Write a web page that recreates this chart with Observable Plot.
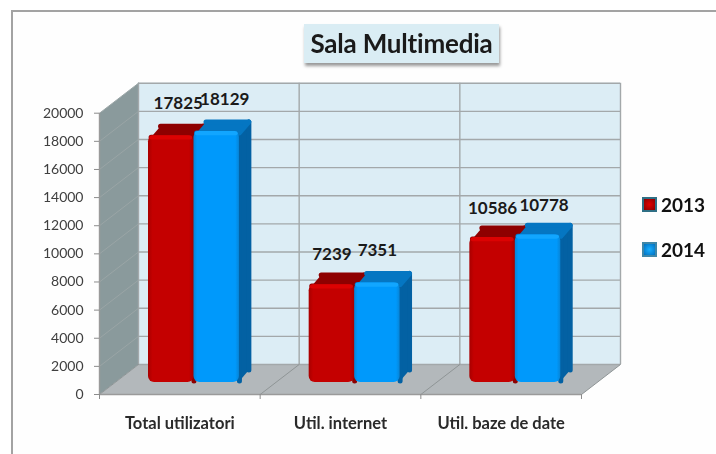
<!DOCTYPE html>
<html><head><meta charset="utf-8">
<script src="https://cdn.jsdelivr.net/npm/d3@7"></script>
<script src="https://cdn.jsdelivr.net/npm/@observablehq/plot@0.6"></script>
<style>
html,body{margin:0;padding:0;background:#fff;width:716px;height:454px;overflow:hidden;font-family:Lato,sans-serif}
#frame{position:absolute;left:11px;top:10px;width:705px;height:444px;border-top:2px solid #a3a3a3;border-left:2px solid #a3a3a3;box-sizing:border-box;background:#fefefe}
#chart{position:absolute;left:0;top:0;filter:blur(0.4px)}
#title{position:absolute;left:304px;top:24px;width:195px;height:39px;background:#daedf4;box-shadow:1px 3px 3px #999;text-align:center;font:bold 26px/38px Lato,sans-serif;color:#1a1a1a;letter-spacing:-0.2px}
.leg{position:absolute;left:661px;font:bold 19px/20px Lato,sans-serif;color:#111}
.sw{position:absolute;left:642px;width:11px;height:11px;border:2px solid}
</style></head><body>
<div id="frame"></div>
<div id="chart"></div>
<div id="title">Sala Multimedia</div>
<div class="sw" style="top:197px;background:radial-gradient(#e00000,#8a0000);border-color:#2f6f85"></div><div class="leg" style="top:195px">2013</div>
<div class="sw" style="top:242px;background:radial-gradient(#19b0ff,#0070c0);border-color:#3f87a8"></div><div class="leg" style="top:240px">2014</div>
<script>
const categories = ["Total utilizatori", "Util. internet", "Util. baze de date"];
const years = ["2013", "2014"];
const values2013 = [17825, 7239, 10586];
const values2014 = [18129, 7351, 10778];
const yTicks = [0, 2000, 4000, 6000, 8000, 10000, 12000, 14000, 16000, 18000, 20000];

// drawing constants (3-D look), kept apart from the data
const wall = {dx: 39, dy: -30, ux: 39 / 160.67, uy: 30 / 0.014065};
const bar = {ux: 12 / 160.67, uy: 11 / 0.014065, lift: 4 / 0.014065, dy: -8, w: 0.283, start: 0.305};
const labelNudge = {"2013": [[7, -32], [0, -30], [0, -29]], "2014": [[8, -32], [0, -33], [6, -29]]};
const look = {
  "2013": {face: "url(#faceRed)", bevel: "#dc0202", top: "#8e0000", side: "#8e0000"},
  "2014": {face: "url(#faceBlue)", bevel: "#12a6ff", top: "#0576c2", side: "#0361a3"}
};
const seriesValues = {"2013": values2013, "2014": values2014};

const poly = (pts, fill, stroke = fill, strokeWidth = 1, extra = {}) =>
  Plot.line(pts, {x: d => d[0], y: d => d[1], fill, stroke, strokeWidth, strokeLinejoin: "round", ...extra});

const defs = () => {
  const s = d3.create("svg:defs");
  const grad = (id, stops) => {
    const g = s.append("linearGradient").attr("id", id);
    stops.forEach(([o, c]) => g.append("stop").attr("offset", o).attr("stop-color", c));
  };
  grad("faceRed", [[0, "#a80000"], [0.1, "#c40000"], [0.9, "#c40000"], [1, "#a80000"]]);
  grad("faceBlue", [[0, "#0685d8"], [0.08, "#0099fb"], [0.92, "#0099fb"], [1, "#0685d8"]]);
  return s.node();
};

const gridColor = "#a3a8aa";
const xEdges = [0, 1, 2, 3];
const marks = [
  defs,
  // back wall, left wall, floor
  Plot.rect([0], {x1: 0, x2: 3, y1: 0, y2: 20000, fill: "#dcedf5", dx: wall.dx, dy: wall.dy}),
  poly([[0, 0], [0, 20000], [wall.ux, 20000 + wall.uy], [wall.ux, wall.uy]], "#8a9a9c", "none"),
  poly([[0, 0], [3, 0], [3 + wall.ux, wall.uy], [wall.ux, wall.uy]], "#b3b8bb", "none"),
  // grid
  Plot.ruleY(yTicks, {x1: 0, x2: 3, stroke: gridColor, strokeWidth: 1.4, dx: wall.dx, dy: wall.dy}),
  Plot.ruleX(xEdges, {y1: 0, y2: 20000, stroke: gridColor, strokeWidth: 1.4, dx: wall.dx, dy: wall.dy}),
  ...yTicks.map(t => Plot.line([[0, t], [wall.ux, t + wall.uy]], {stroke: t ? "#9aa5a6" : "#8f9596", strokeWidth: 1})),
  ...xEdges.slice(1).map(e => Plot.line([[e, 0], [e + wall.ux, wall.uy]], {stroke: "#8f9596", strokeWidth: 1})),
  Plot.ruleX([0], {y1: 0, y2: 20000, stroke: "#9a9a9a", strokeWidth: 1.4}),
  Plot.ruleY([0], {stroke: "#9a9a9a", strokeWidth: 1.6})
];

// bars, drawn series by series so the blue sits in front of the red
years.forEach((yr, s) => {
  const c = look[yr];
  seriesValues[yr].forEach((v, i) => {
    const x1 = i + bar.start + s * bar.w, x2 = x1 + bar.w;
    const base = bar.lift;
    const inset = 0.016, ins = 100;
    marks.push(
      poly([[x2, base + ins], [x2, v], [x2 + bar.ux - inset, v + bar.uy - ins], [x2 + bar.ux - inset, base + bar.uy + ins]], c.side, c.side, 5, {dy: bar.dy}),
      poly([[x1 + inset, v - 100], [x2, v - 100], [x2 + bar.ux - inset, v + bar.uy - ins], [x1 + bar.ux, v + bar.uy - ins]], c.top, c.top, 5, {dy: bar.dy}),
      Plot.rect([0], {x1, x2, y1: base, y2: v, fill: c.face, rx: 6, dy: bar.dy}),
      Plot.rect([0], {x1: x1 + inset / 2, x2: x2 - inset / 2, y1: v - 300, y2: v, fill: c.bevel, rx: 3, dy: bar.dy})
    );
  });
});

// value labels
years.forEach(yr => {
  seriesValues[yr].forEach((v, i) => {
    const s = years.indexOf(yr);
    const [dx, dy] = labelNudge[yr][i];
    marks.push(Plot.text([v], {
      x: i + bar.start + s * bar.w + bar.w / 2, y: d => d, text: d => String(d),
      dx, dy: dy + bar.dy, fontSize: 17, fontWeight: 700, fill: "#1a1a1a",
      fontFamily: "Lato, sans-serif"
    }));
  });
});

// axes
marks.push(
  Plot.axisY({ticks: yTicks, tickSize: 5, tickPadding: 11, label: null, tickFormat: d => String(d), stroke: "#8c8c8c", fill: "#404040", fontSize: 14, fontFamily: "Lato, sans-serif"}),
  Plot.axisX({ticks: xEdges, tickSize: 5, tickFormat: () => "", label: null, stroke: "#8c8c8c"}),
  Plot.axisX({ticks: [0.5, 1.5, 2.5], tickSize: 0, tickPadding: 23, label: null, tickFormat: d => categories[Math.floor(d)], fill: "#2a2a2a", fontSize: 16.5, fontWeight: 700, fontFamily: "Lato, sans-serif"})
);

const plot = Plot.plot({
  width: 716, height: 454,
  marginLeft: 99, marginRight: 135, marginTop: 112.7, marginBottom: 60,
  x: {domain: [0, 3], axis: null},
  y: {domain: [0, 20000], axis: null},
  style: {background: "transparent", overflow: "visible"},
  marks
});
document.getElementById("chart").append(plot);
</script>
</body></html>
